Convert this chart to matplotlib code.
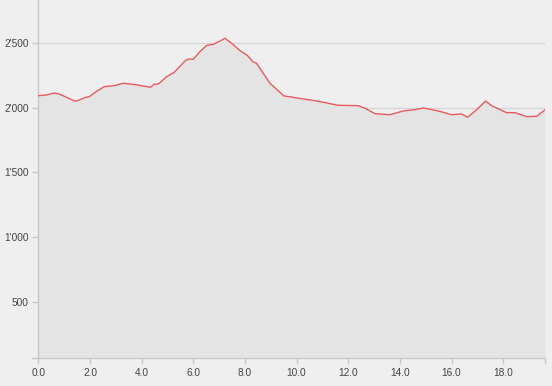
import matplotlib.pyplot as plt
from matplotlib.lines import Line2D
from matplotlib.ticker import FuncFormatter

# distance (km) and elevation (m)
distance = [0.0, 0.30, 0.62, 0.81, 1.43, 1.59, 1.85, 1.97, 2.30, 2.56, 2.94, 3.29,
            3.78, 4.34, 4.49, 4.62, 4.71, 4.97, 5.25, 5.68, 5.81, 6.00, 6.26, 6.52,
            6.78, 7.03, 7.23, 7.49, 7.81, 8.09, 8.30, 8.45, 8.97, 9.23, 9.51, 9.74,
            9.94, 10.78, 11.61, 12.39, 12.65, 13.04, 13.62, 14.13, 14.58, 14.91,
            15.49, 16.00, 16.39, 16.62, 16.97, 17.32, 17.55, 18.13, 18.46, 18.91,
            19.30, 19.62]
elevation = [2093, 2098, 2114, 2106, 2050, 2060, 2081, 2085, 2132, 2163, 2170, 2189,
             2178, 2158, 2181, 2183, 2193, 2240, 2271, 2361, 2376, 2374, 2433, 2482,
             2490, 2515, 2536, 2497, 2441, 2405, 2356, 2343, 2189, 2142, 2091, 2085,
             2078, 2052, 2019, 2016, 1996, 1954, 1946, 1975, 1985, 1998,
             1975, 1946, 1952, 1926, 1983, 2052, 2016, 1962, 1962, 1931,
             1934, 1983]

x_ticks = [0, 2, 4, 6, 8, 10, 12, 14, 16, 18]
y_ticks = [500, 1000, 1500, 2000, 2500]

plt.rcParams['font.family'] = ['Liberation Sans', 'DejaVu Sans']

fig = plt.figure(figsize=(5.52, 3.86), dpi=100, facecolor='#efefef')
ax = fig.add_axes([0.0694, 0.0718, 0.9179, 0.9282])
ax.set_facecolor('#efefef')

axis_col = '#c8c8c8'
ax.set_xlim(0, distance[-1])
ax.set_ylim(65, 2832)

for v in y_ticks:
    ax.axhline(v, color='#d6d6d6', lw=1, zorder=0)

ax.fill_between(distance, elevation, 65, color='#e4e4e4', zorder=1, lw=0)
ax.plot(distance, elevation, color='#e85a5c', lw=1.0, zorder=3)

for side in ['top', 'right']:
    ax.spines[side].set_visible(False)
for side in ['left', 'bottom']:
    ax.spines[side].set_color(axis_col)
    ax.spines[side].set_linewidth(1)

ax.set_xticks(x_ticks + [distance[-1]])
ax.set_xticklabels(['%.1f' % t for t in x_ticks] + [''])
ax.set_yticks(y_ticks)
ax.yaxis.set_major_formatter(FuncFormatter(lambda v, p: f"{int(v):,}".replace(',', "'")))
ax.tick_params(axis='both', colors=axis_col, length=4.3, width=1, labelsize=7.3,
               labelcolor='#444444', pad=2.5)

# x-axis line runs a little past the left spine
fig.add_artist(Line2D([32 / 552, 0.0694], [0.0718, 0.0718], color=axis_col, lw=1))

fig.savefig('out.png', dpi=100, facecolor=fig.get_facecolor())
